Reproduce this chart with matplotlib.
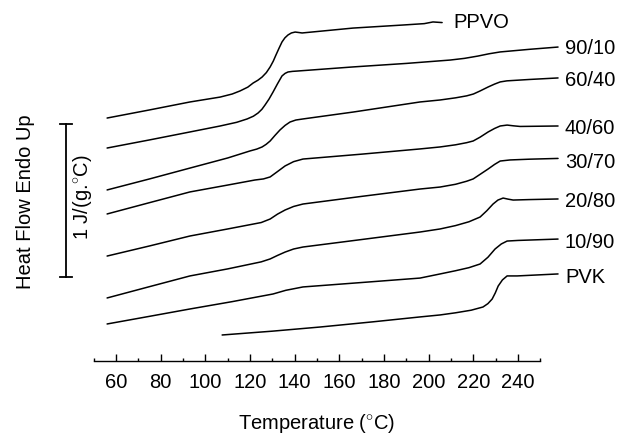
import matplotlib
matplotlib.use("Agg")
import matplotlib.pyplot as plt
from matplotlib.ticker import MultipleLocator

plt.rcParams['font.family'] = ['Liberation Sans', 'DejaVu Sans']
plt.rcParams['mathtext.fontset'] = 'custom'
plt.rcParams['mathtext.rm'] = 'Liberation Sans'

# DSC traces: temperature (°C) and heat flow (J/(g·°C), offset for stacking)
labels = ["PPVO", "90/10", "60/40", "40/60", "30/70", "20/80", "10/90", "PVK"]

t_ppvo = [56.0, 75.0, 93.1, 106.6, 112.0, 115.5, 119.0, 121.4, 123.5, 125.4, 127.3, 129.0, 130.4,
          131.6, 133.0, 134.3, 135.6, 137.0, 138.5, 140.2, 141.8, 143.3, 166.1, 188.5, 198.0, 201.9, 206.0]
h_ppvo = [1.588, 1.641, 1.693, 1.725, 1.745, 1.765, 1.790, 1.817, 1.835, 1.856, 1.885, 1.922, 1.960,
          2.000, 2.045, 2.085, 2.112, 2.131, 2.144, 2.150, 2.147, 2.144, 2.176, 2.196, 2.205, 2.216, 2.212]

t_9010 = [56.0, 75.0, 93.1, 106.6, 114.0, 118.7, 121.5, 123.6, 125.3, 126.7, 128.5, 130.3, 132.3,
          134.3, 135.7, 137.0, 139.0, 141.0, 166.1, 190.0, 209.6, 216.0, 222.0, 227.0, 232.0, 245.0, 257.9]
h_9010 = [1.392, 1.445, 1.497, 1.536, 1.560, 1.582, 1.600, 1.621, 1.645, 1.673, 1.712, 1.758, 1.812,
          1.863, 1.880, 1.889, 1.893, 1.895, 1.922, 1.945, 1.967, 1.978, 1.993, 2.008, 2.020, 2.037, 2.052]

t_6040 = [56.0, 75.0, 93.1, 110.0, 120.0, 123.0, 125.4, 127.2, 129.0, 131.2, 133.4, 135.7, 137.9,
          140.5, 143.7, 166.1, 196.1, 205.1, 212.0, 217.0, 220.0, 223.0, 226.6, 229.5, 232.0, 235.0,
          245.0, 257.9]
h_6040 = [1.118, 1.190, 1.261, 1.327, 1.373, 1.385, 1.399, 1.416, 1.438, 1.475, 1.510, 1.540, 1.562,
          1.575, 1.582, 1.627, 1.693, 1.706, 1.720, 1.733, 1.745, 1.765, 1.791, 1.810, 1.824, 1.831,
          1.840, 1.850]

t_4060 = [56.0, 75.0, 93.1, 110.0, 122.2, 126.0, 129.0, 132.0, 135.7, 139.5, 143.7, 170.0, 196.1,
          205.1, 212.0, 217.0, 219.9, 223.0, 226.6, 229.5, 232.0, 235.1, 238.0, 240.9, 257.9]
h_4060 = [0.961, 1.035, 1.105, 1.150, 1.183, 1.190, 1.203, 1.235, 1.275, 1.303, 1.320, 1.352, 1.386,
          1.399, 1.413, 1.427, 1.438, 1.463, 1.497, 1.520, 1.536, 1.542, 1.537, 1.533, 1.536]

t_3070 = [56.0, 75.0, 93.1, 110.0, 125.0, 129.0, 132.3, 135.7, 139.5, 143.7, 170.0, 196.1, 205.1,
          212.0, 217.0, 219.9, 223.0, 226.6, 229.5, 232.0, 236.4, 245.0, 257.9]
h_3070 = [0.686, 0.752, 0.817, 0.863, 0.905, 0.928, 0.960, 0.987, 1.010, 1.026, 1.076, 1.124, 1.137,
          1.155, 1.175, 1.190, 1.220, 1.255, 1.285, 1.307, 1.314, 1.319, 1.324]

t_2080 = [56.0, 75.0, 93.1, 110.0, 125.0, 129.0, 132.3, 135.7, 139.5, 143.7, 170.0, 196.1, 205.1,
          212.0, 218.0, 223.0, 226.0, 228.8, 231.0, 233.3, 235.5, 237.8, 245.0, 257.9]
h_2080 = [0.412, 0.486, 0.556, 0.602, 0.648, 0.667, 0.690, 0.712, 0.732, 0.745, 0.794, 0.843, 0.863,
          0.885, 0.910, 0.941, 0.982, 1.026, 1.052, 1.065, 1.058, 1.052, 1.055, 1.059]

t_1090 = [56.0, 75.0, 93.1, 112.0, 130.3, 136.0, 143.7, 170.0, 196.1, 205.1, 212.0, 218.0, 223.0,
          226.5, 229.7, 232.5, 235.1, 240.0, 257.9]
h_1090 = [0.242, 0.292, 0.340, 0.388, 0.438, 0.462, 0.484, 0.513, 0.542, 0.569, 0.590, 0.610, 0.634,
          0.678, 0.732, 0.765, 0.784, 0.788, 0.797]

t_pvk = [107.5, 130.0, 151.3, 175.0, 196.1, 205.1, 212.0, 219.0, 224.3, 226.5, 228.4, 229.8, 231.1,
         233.0, 235.1, 239.6, 257.9]
h_pvk = [0.170, 0.195, 0.222, 0.256, 0.288, 0.301, 0.315, 0.332, 0.353, 0.375, 0.405, 0.445, 0.490,
         0.530, 0.556, 0.556, 0.569]

temps = [t_ppvo, t_9010, t_6040, t_4060, t_3070, t_2080, t_1090, t_pvk]
flows = [h_ppvo, h_9010, h_6040, h_4060, h_3070, h_2080, h_1090, h_pvk]

# label anchor positions (°C, J/(g·°C))
label_t = [210.9, 261.0, 261.0, 261.0, 261.0, 261.0, 261.0, 261.0]
label_h = [2.216, 2.046, 1.837, 1.529, 1.301, 1.046, 0.784, 0.555]

# scale bar: 1 J/(g·°C)
bar_t = 37.6
bar_h0 = 0.549
bar_len = 1.0

fs = 14.5

fig = plt.figure(figsize=(6.25, 4.35), dpi=100)
ax = fig.add_axes([93.7 / 625, 73 / 435, (540.4 - 93.7) / 625, 362 / 435])
ax.set_xlim(50, 250)
ax.set_ylim(0, 362 / 153)

for t, h in zip(temps, flows):
    ax.plot(t, h, color="black", lw=1.1, clip_on=False,
            solid_joinstyle="round", solid_capstyle="round")

for name, lt, lh in zip(labels, label_t, label_h):
    ax.text(lt, lh, name, fontsize=fs, ha="left", va="center", clip_on=False)

# scale bar with end caps
ax.plot([bar_t, bar_t], [bar_h0, bar_h0 + bar_len], color="black", lw=1.3, clip_on=False)
for yy in (bar_h0, bar_h0 + bar_len):
    ax.plot([bar_t - 2.9, bar_t + 2.9], [yy, yy], color="black", lw=1.3, clip_on=False)
ax.text(bar_t + 7.4, bar_h0 + bar_len / 2 + 0.03, "1 J/(g.$^{\\circ}$C)", rotation=90,
        ha="center", va="center", fontsize=fs, clip_on=False)

for side in ("left", "right", "top"):
    ax.spines[side].set_visible(False)
ax.spines["bottom"].set_linewidth(1.0)
ax.set_yticks([])

ax.xaxis.set_major_locator(MultipleLocator(20))
ax.xaxis.set_minor_locator(MultipleLocator(10))
ax.set_xticks(range(60, 241, 20))
ax.tick_params(axis="x", which="major", direction="in", length=5, width=1.0,
               labelsize=fs, pad=8)
ax.tick_params(axis="x", which="minor", direction="in", length=2.5, width=1.0)

ax.set_xlabel("Temperature ($^{\\circ}$C)", fontsize=fs, labelpad=14)
fig.text(26 / 625, 1 - 202 / 435, "Heat Flow Endo Up", rotation=90,
         ha="center", va="center", fontsize=fs)

fig.savefig("out.png", dpi=100)
